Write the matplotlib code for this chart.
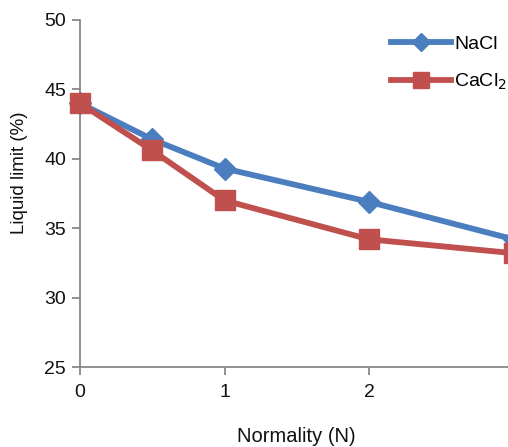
import matplotlib
matplotlib.use("Agg")
import matplotlib.pyplot as plt

plt.rcParams['font.family'] = ['Liberation Sans', 'DejaVu Sans']

normality = [0, 0.5, 1, 2, 3]
nacl = [44.0, 41.4, 39.3, 36.9, 34.2]
cacl2 = [44.0, 40.6, 37.0, 34.2, 33.2]
xticks = [0, 1, 2, 3]
yticks = [25, 30, 35, 40, 45, 50]

W, H = 508, 447
fig = plt.figure(figsize=(W / 100, H / 100), dpi=100)
ax = fig.add_axes([80 / W, 80 / H, (513.5 - 80) / W, (367 - 20) / H])

blue = '#4A7EBF'
red = '#C0504D'
ax.plot(normality, nacl, color=blue, lw=4.2, marker='D', ms=11, mec=blue, mfc=blue,
        label='NaCl', clip_on=False, zorder=3)
ax.plot(normality, cacl2, color=red, lw=4.2, marker='s', ms=14, mec=red, mfc=red,
        label='CaCl$_2$', clip_on=False, zorder=4)

ax.set_xlim(0, 3)
ax.set_ylim(25, 50)
ax.set_xticks(xticks)
ax.set_yticks(yticks)
ax.tick_params(axis='both', labelsize=14, colors='#888888', labelcolor='#111111',
               length=6, width=1.3, direction='out')
ax.tick_params(axis='x', pad=6)
ax.tick_params(axis='y', pad=4)
for s in ['top', 'right']:
    ax.spines[s].set_visible(False)
for s in ['left', 'bottom']:
    ax.spines[s].set_color('#888888')
    ax.spines[s].set_linewidth(1.3)

ax.set_ylabel('Liquid limit (%)', fontsize=13.5, color='#111111', va='center')
ax.yaxis.set_label_coords((20 - 80) / 433.5, (367 - 173) / 347)
ax.set_xlabel('Normality (N)', fontsize=14.5, color='#111111', va='center')
ax.xaxis.set_label_coords(0.5, (367 - 437) / 347)

fig.legend(loc='center left', bbox_to_anchor=(391 / W, 1 - 63.5 / H), frameon=False,
           fontsize=14, handlelength=3.1, labelspacing=0.95, handletextpad=0.15,
           borderaxespad=0, borderpad=0, markerscale=0.85)

fig.savefig('out.png', dpi=100)
